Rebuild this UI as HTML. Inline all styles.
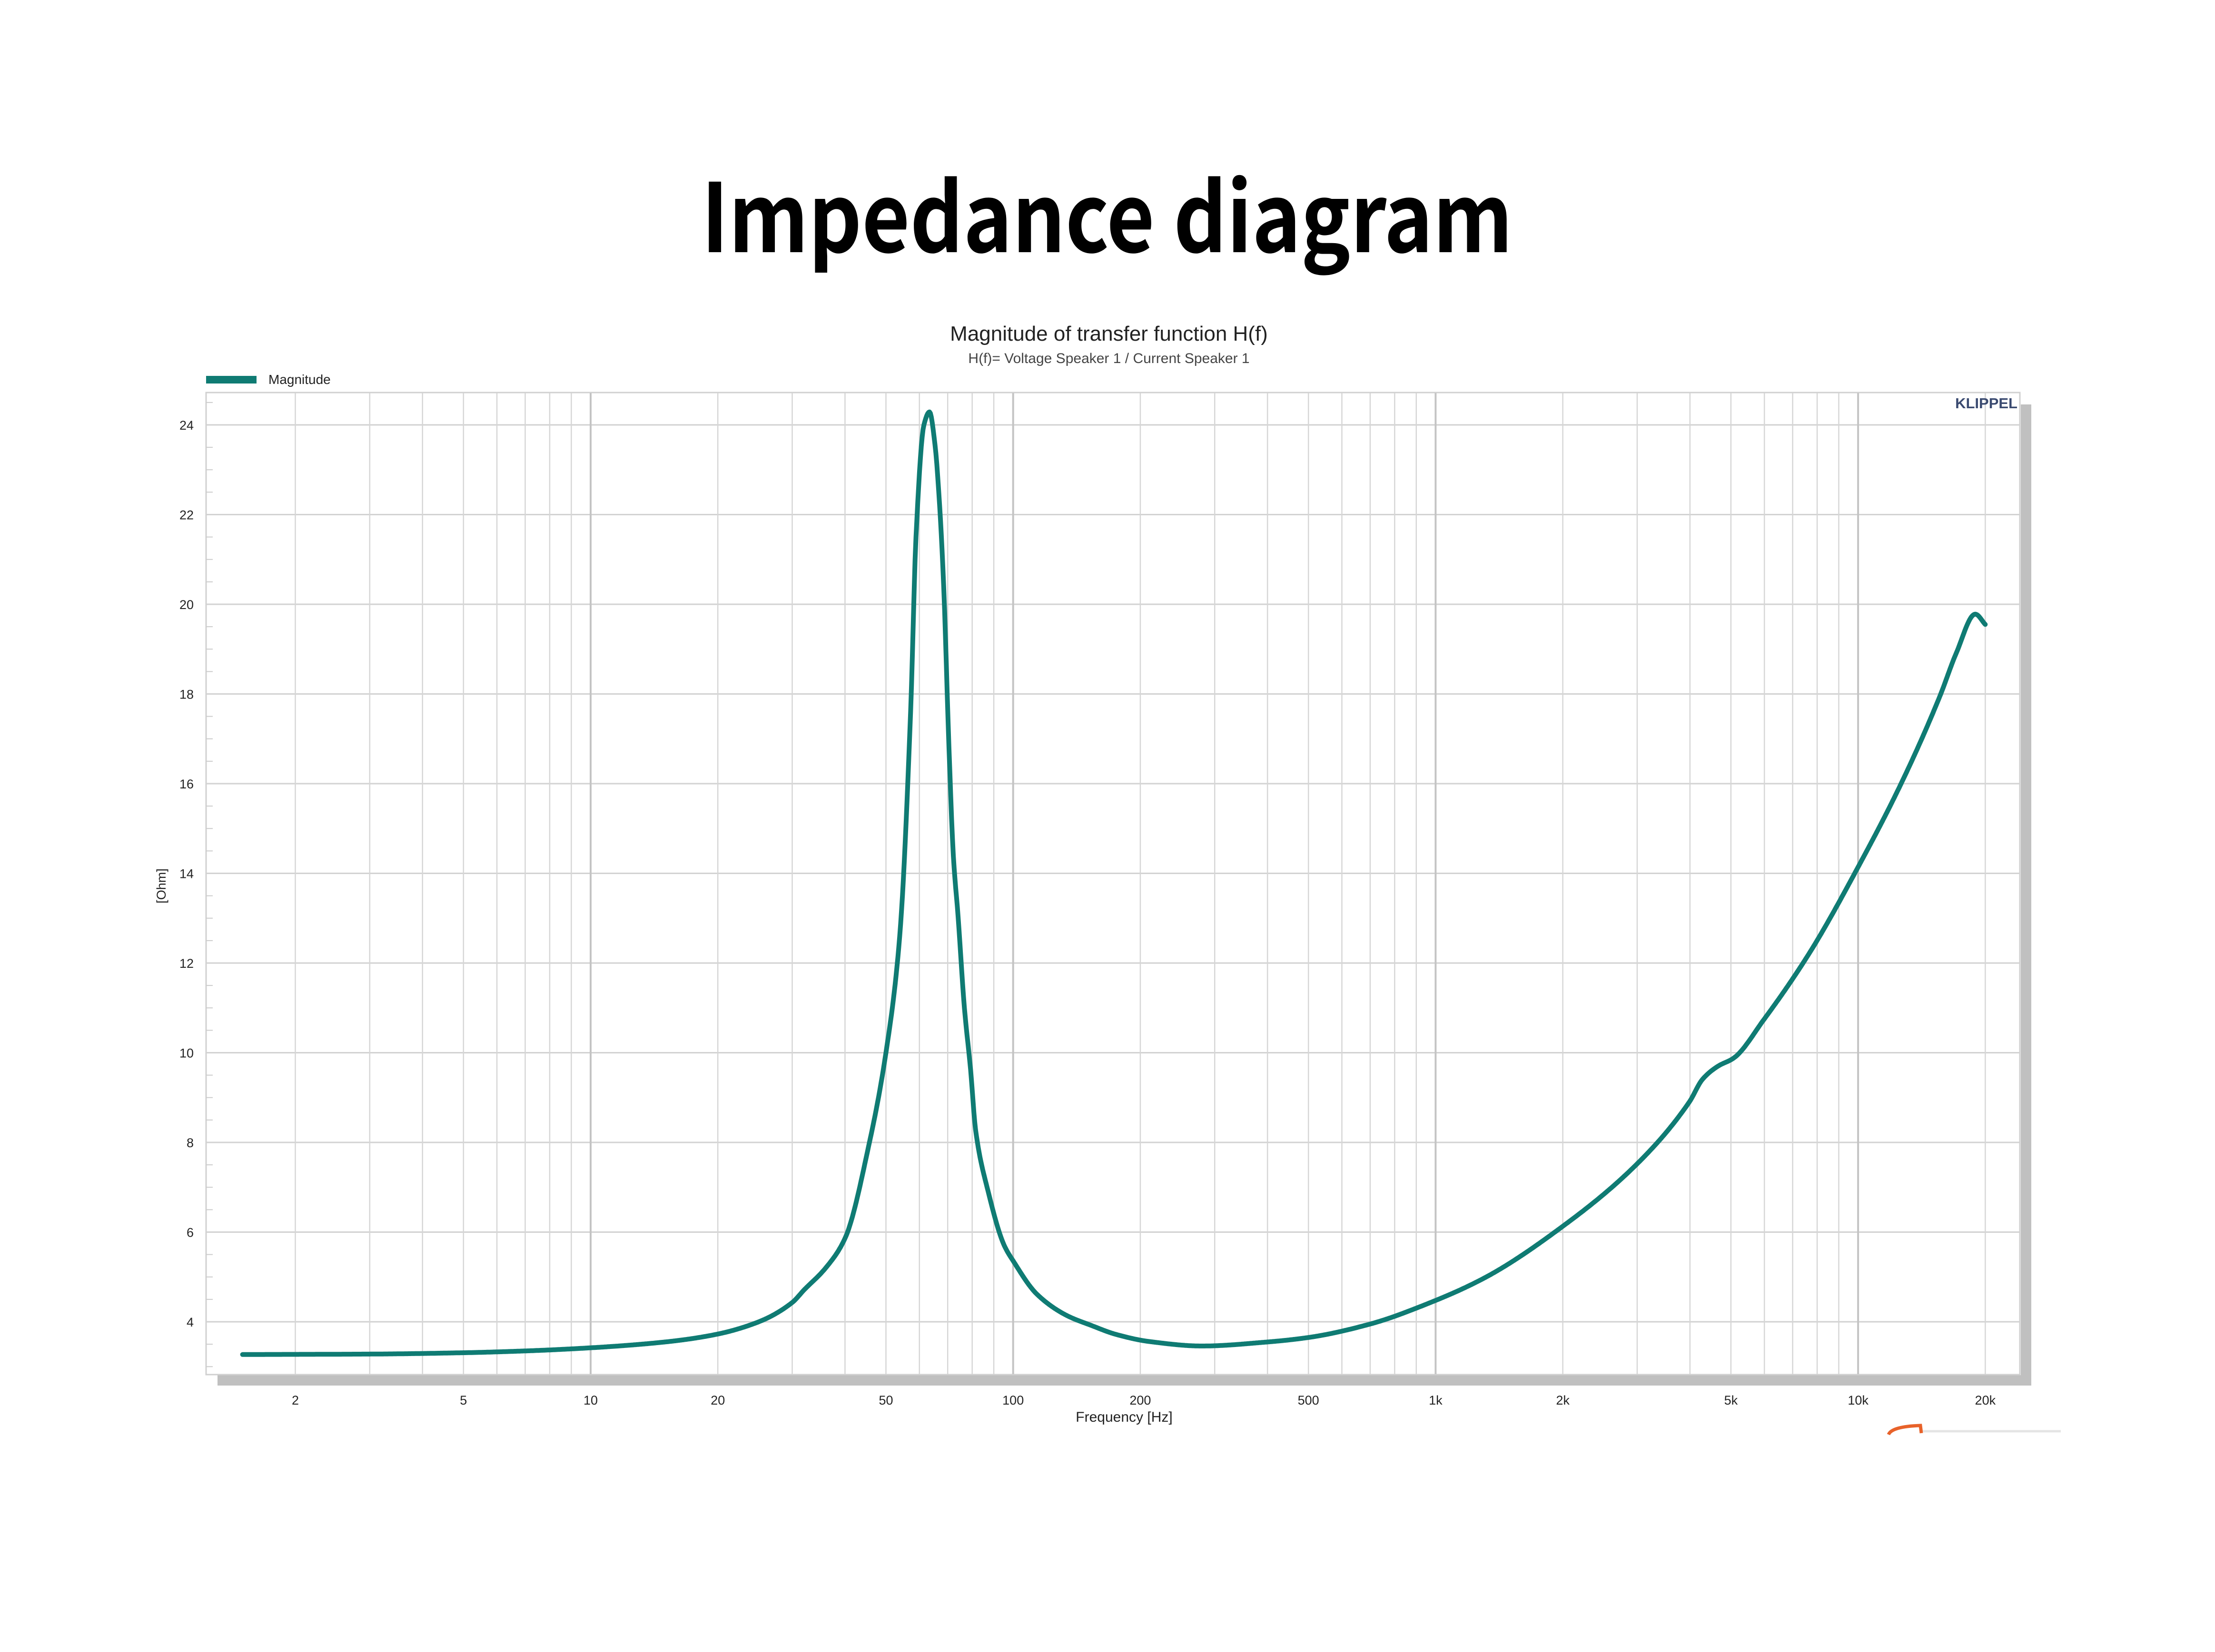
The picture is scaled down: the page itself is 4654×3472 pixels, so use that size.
<!DOCTYPE html>
<html><head><meta charset="utf-8"><style>
html,body{margin:0;padding:0;background:#fff;}
svg{display:block;}
</style></head><body>
<svg id="s" width="4654" height="3472" viewBox="0 0 4654 3472" xmlns="http://www.w3.org/2000/svg">
<rect width="4654" height="3472" fill="#fff"/>
<text x="2326" y="530" text-anchor="middle" font-family="'Noto Sans CJK SC','Liberation Sans',sans-serif" font-weight="bold" font-size="200" textLength="1705" lengthAdjust="spacingAndGlyphs" fill="#000">Impedance diagram</text>
<text x="2330" y="716" text-anchor="middle" font-family="'Liberation Sans',sans-serif" font-size="44" fill="#222">Magnitude of transfer function H(f)</text>
<text x="2330" y="763" text-anchor="middle" font-family="'Liberation Sans',sans-serif" font-size="30" fill="#444">H(f)= Voltage Speaker 1 / Current Speaker 1</text>
<rect x="433" y="790" width="106" height="16" fill="#0f7b73"/>
<text x="564" y="807" font-family="'Liberation Sans',sans-serif" font-size="28" fill="#222">Magnitude</text>
<rect x="4246" y="850" width="22" height="2062" fill="#c0c0c0"/>
<rect x="457" y="2890" width="3811" height="22" fill="#c0c0c0"/>
<rect x="433" y="825" width="3811" height="2064" fill="#fff" stroke="#d0d0d0" stroke-width="3"/>
<g id="grid"></g>
<g id="lbl" font-family="'Liberation Sans',sans-serif" font-size="27" fill="#222"></g>
<text x="4239" y="858" text-anchor="end" font-family="'Liberation Sans',sans-serif" font-weight="bold" font-size="31" fill="#3a4a70">KLIPPEL</text>
<text transform="translate(348,1862) rotate(-90)" text-anchor="middle" font-family="'Liberation Sans',sans-serif" font-size="27" fill="#222">[Ohm]</text>
<text x="2362" y="2988" text-anchor="middle" font-family="'Liberation Sans',sans-serif" font-size="30" fill="#222">Frequency [Hz]</text>
<path id="curve" d="" fill="none" stroke="#0f7b73" stroke-width="10" stroke-linejoin="round" stroke-linecap="round"/>
<path d="M3968 3015 Q3975 2998 4035 2996 L4037 3012" fill="none" stroke="#e8622a" stroke-width="7"/>
<line x1="4040" y1="3008" x2="4330" y2="3008" stroke="#e4e4e4" stroke-width="5"/>
</svg>
<script>
(function(){
var NS="http://www.w3.org/2000/svg";
function X(f){return 1241+887.7*Math.log10(f/10);}
function Y(z){return 2778-(z-4)*94.25;}
var g=document.getElementById('grid'),L=document.getElementById('lbl');
function el(p,t,a){var e=document.createElementNS(NS,t);for(var k in a)e.setAttribute(k,a[k]);p.appendChild(e);return e;}
for(var z=4;z<=24;z+=2){el(g,'line',{x1:433,x2:4244,y1:Y(z),y2:Y(z),stroke:'#d2d2d2','stroke-width':3});
 var t=el(L,'text',{x:407,y:Y(z)+10,'text-anchor':'end'});t.textContent=z;}
for(var z=3;z<=24.5;z+=0.5){if(z%2==0)continue;el(g,'line',{x1:433,x2:447,y1:Y(z),y2:Y(z),stroke:'#ccc','stroke-width':2});}
[1,10,100,1000,10000].forEach(function(d){for(var m=1;m<=9;m++){var f=d*m;if(f<2||f>20000)continue;
 var dec=(m==1);el(g,'line',{x1:X(f),x2:X(f),y1:826,y2:2888,stroke:dec?'#c4c4c4':'#d6d6d6','stroke-width':dec?4:2.5});}});
var lab=[[2,'2'],[5,'5'],[10,'10'],[20,'20'],[50,'50'],[100,'100'],[200,'200'],[500,'500'],[1000,'1k'],[2000,'2k'],[5000,'5k'],[10000,'10k'],[20000,'20k']];
lab.forEach(function(a){var t=el(L,'text',{x:X(a[0]),y:2952,'text-anchor':'middle'});t.textContent=a[1];});
var P=[[1.5,3.27],[3,3.28],[5,3.31],[7,3.35],[10,3.42],[15,3.55],[19.6,3.71],[25,4.0],[30,4.43],[32,4.71],[36,5.2],[40,5.86],[45.7,8.0],[50,10.0],[53.9,12.6],[57.2,17.6],[58.9,21.5],[61.5,24.0],[63.4,24.29],[65.3,23.57],[67,22.2],[68.5,20.4],[70.5,16.8],[72.2,14.39],[74.1,13.03],[76.7,10.99],[79.3,9.63],[81.5,8.28],[87.2,6.92],[95.3,5.7],[100,5.36],[114,4.61],[134,4.14],[153,3.92],[175,3.72],[210,3.56],[280,3.46],[400,3.55],[500,3.65],[700,3.95],[955,4.40],[1306,4.98],[2000,6.13],[2990,7.51],[3985,8.9],[4285,9.41],[4660,9.7],[5075,9.88],[5985,10.74],[7690,12.24],[10000,14.14],[12700,16.04],[15600,17.94],[17090,18.92],[18940,19.78],[20000,19.55]];
var xs=P.map(function(p){return X(p[0]);}),ys=P.map(function(p){return p[1];});
var n=xs.length,d=[],m=[];
for(var i=0;i<n-1;i++)d.push((ys[i+1]-ys[i])/(xs[i+1]-xs[i]));
m[0]=d[0];m[n-1]=d[n-2];
for(var i=1;i<n-1;i++){if(d[i-1]*d[i]<=0)m[i]=0;else{var h0=xs[i]-xs[i-1],h1=xs[i+1]-xs[i];var w1=2*h1+h0,w2=h1+2*h0;m[i]=(w1+w2)/(w1/d[i-1]+w2/d[i]);}}
var path='M'+xs[0].toFixed(1)+' '+Y(ys[0]).toFixed(1);
for(var i=0;i<n-1;i++){var h=xs[i+1]-xs[i];var steps=Math.max(2,Math.ceil(h/2));
 for(var k=1;k<=steps;k++){var t=k/steps,t2=t*t,t3=t2*t;
  var y=(2*t3-3*t2+1)*ys[i]+(t3-2*t2+t)*h*m[i]+(-2*t3+3*t2)*ys[i+1]+(t3-t2)*h*m[i+1];
  path+=' L'+(xs[i]+t*h).toFixed(1)+' '+Y(y).toFixed(1);}}
document.getElementById('curve').setAttribute('d',path);
})();
</script>
</body></html>
